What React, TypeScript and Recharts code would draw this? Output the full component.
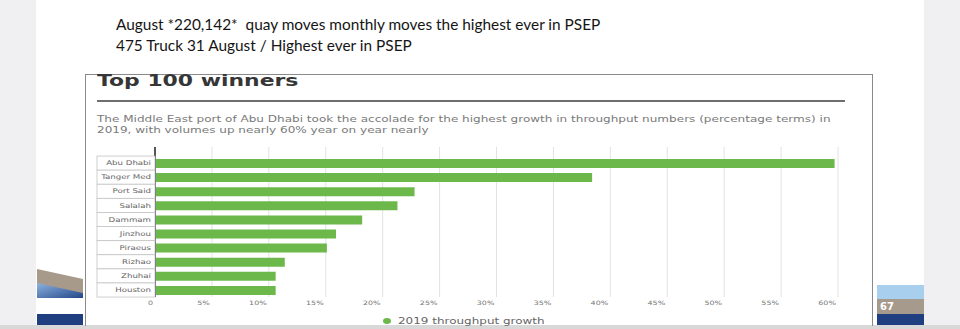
import React from "react";
import { BarChart, Bar, XAxis, YAxis, CartesianGrid, Legend } from "recharts";

const ports = [
  "Abu Dhabi",
  "Tanger Med",
  "Port Said",
  "Salalah",
  "Dammam",
  "Jinzhou",
  "Piraeus",
  "Rizhao",
  "Zhuhai",
  "Houston",
];
const growth2019 = [59.7, 38.4, 22.8, 21.3, 18.2, 15.9, 15.1, 11.4, 10.6, 10.6];
const growthTicks = [0, 5, 10, 15, 20, 25, 30, 35, 40, 45, 50, 55, 60];
const seriesName = "2019 throughput growth";

const data = ports.map((port, i) => ({ port, growth: growth2019[i] }));

const STRETCH = 1.33;
const GREEN = "#6db84b";

function PortTick(props: any) {
  const { x, y, payload } = props;
  return (
    <g>
      <rect x={x - 58} y={y - 7} width={58} height={14.1} fill="#fff" stroke="#c4c4c4" strokeWidth={0.8} />
      <text
        transform={`translate(${x - 4},${y + 2.2}) scale(${STRETCH},1)`}
        textAnchor="end"
        fontSize={6.5}
        fontFamily="DejaVu Sans"
        fill="#666"
      >
        {payload.value}
      </text>
    </g>
  );
}

function GrowthTick(props: any) {
  const { x, y, payload } = props;
  const label = payload.value === 0 ? "0" : `${payload.value}%`;
  return (
    <text
      transform={`translate(${x - 2},${y + 7.5}) scale(${STRETCH},1)`}
      textAnchor="end"
      fontSize={6}
      fontFamily="DejaVu Sans"
      fill="#777"
    >
      {label}
    </text>
  );
}

function LegendBox(props: any) {
  const item = (props.payload || [])[0];
  return (
    <div style={{ display: "flex", alignItems: "center", whiteSpace: "nowrap" }}>
      <span
        style={{
          display: "inline-block",
          width: 8,
          height: 6,
          borderRadius: "50%",
          background: item ? item.color : GREEN,
          marginRight: 7,
        }}
      />
      <span
        style={{
          display: "inline-block",
          fontFamily: "DejaVu Sans",
          fontSize: 9,
          color: "#666",
          transform: `scaleX(${STRETCH})`,
          transformOrigin: "left center",
        }}
      >
        {item ? item.value : seriesName}
      </span>
    </div>
  );
}

export default function App() {
  return (
    <div
      style={{
        position: "absolute",
        left: 0,
        top: 0,
        width: 960,
        height: 329,
        background: "#f0f0f2",
        overflow: "hidden",
      }}
    >
      {/* slide */}
      <div style={{ position: "absolute", left: 36, top: 0, width: 888, height: 325, background: "#fff" }} />
      <div style={{ position: "absolute", left: 0, top: 325, width: 960, height: 4, background: "#d8d8d8" }} />

      {/* note above */}
      <div
        style={{
          position: "absolute",
          left: 116,
          top: 14,
          fontFamily: "Lato",
          fontSize: 15.4,
          lineHeight: "21px",
          color: "#151515",
          whiteSpace: "pre",
        }}
      >
        {"August *220,142*  quay moves monthly moves the highest ever in PSEP\n475 Truck 31 August / Highest ever in PSEP"}
      </div>

      {/* chart box */}
      <div
        style={{
          position: "absolute",
          left: 85,
          top: 74,
          width: 786,
          height: 251,
          border: "1.5px solid #8a8a8a",
          borderBottom: "none",
        }}
      />
      <div
        style={{
          position: "absolute",
          left: 97,
          top: 74,
          fontFamily: "DejaVu Sans",
          fontWeight: 700,
          fontSize: 15,
          lineHeight: "15px",
          color: "#363636",
          whiteSpace: "nowrap",
          transform: "scaleX(1.46)",
          transformOrigin: "left top",
        }}
      >
        Top 100 winners
      </div>
      <div style={{ position: "absolute", left: 97, top: 100, width: 748, height: 2, background: "#6e6e6e" }} />
      <div
        style={{
          position: "absolute",
          left: 97,
          top: 114,
          fontFamily: "DejaVu Sans",
          fontSize: 8.6,
          lineHeight: "11px",
          color: "#7a7a7a",
          whiteSpace: "pre",
          transform: "scaleX(1.40)",
          transformOrigin: "left top",
        }}
      >
        {"The Middle East port of Abu Dhabi took the accolade for the highest growth in throughput numbers (percentage terms) in\n2019, with volumes up nearly 60% year on year nearly"}
      </div>

      {/* slide decorations */}
      <svg style={{ position: "absolute", left: 0, top: 0 }} width={960} height={329}>
        <defs>
          <linearGradient id="lb" x1="0" y1="0" x2="1" y2="1">
            <stop offset="0%" stopColor="#8db4e0" />
            <stop offset="100%" stopColor="#24468a" />
          </linearGradient>
        </defs>
        <polygon points="37,269 83,279 83,298 37,298" fill="#a89a8b" />
        <polygon points="37,283 83,293 83,298 37,298" fill="url(#lb)" />
        <rect x={37} y={314} width={46} height={11} fill="#1f3f80" />
        <rect x={877} y={285} width={47} height={14} fill="#a8cfee" />
        <rect x={877} y={299} width={47} height={15} fill="#a69a8c" />
        <rect x={877} y={314} width={47} height={11} fill="#1f3f80" />
        <text x={880} y={310} fontFamily="DejaVu Sans" fontWeight={700} fontSize={10} fill="#fff">
          67
        </text>
      </svg>

      <div style={{ position: "absolute", left: 0, top: 0 }}>
        <BarChart
          layout="vertical"
          width={960}
          height={329}
          data={data}
          margin={{ top: 147, right: 122, bottom: 18, left: 0 }}
        >
          <CartesianGrid horizontal={false} stroke="#e2e2e2" />
          <XAxis
            type="number"
            domain={[0, 60]}
            ticks={growthTicks}
            interval={0}
            axisLine={false}
            tickLine={false}
            tickSize={0}
            tickMargin={0}
            height={14}
            tick={<GrowthTick />}
          />
          <YAxis
            type="category"
            dataKey="port"
            width={155}
            interval={0}
            axisLine={{ stroke: "#555", strokeWidth: 2 }}
            tickLine={false}
            tickSize={0}
            tickMargin={0}
            padding={{ top: 9, bottom: 0 }}
            tick={<PortTick />}
          />
          <Bar dataKey="growth" name={seriesName} fill={GREEN} barSize={9} isAnimationActive={false} />
          <Legend
            layout="horizontal"
            verticalAlign="middle"
            align="center"
            content={<LegendBox />}
            wrapperStyle={{ position: "absolute", top: 316, left: 383, width: "auto" }}
          />
        </BarChart>
      </div>
    </div>
  );
}
